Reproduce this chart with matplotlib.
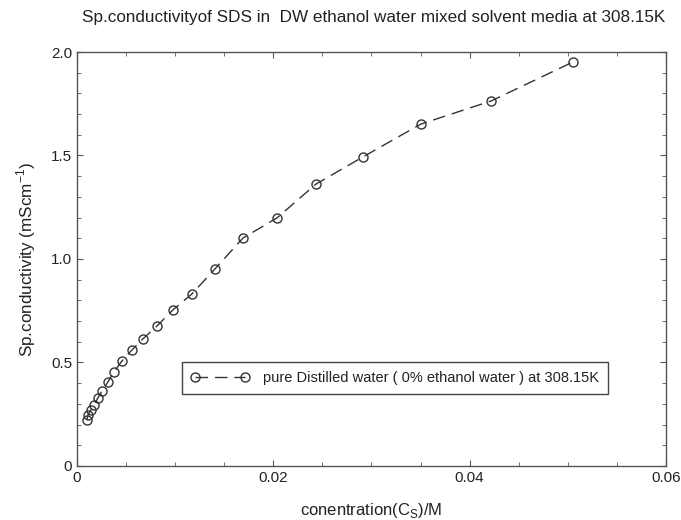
import matplotlib
matplotlib.use("Agg")
import matplotlib.pyplot as plt
from matplotlib.ticker import MultipleLocator

plt.rcParams['font.family'] = ['Liberation Sans', 'DejaVu Sans']

# data
conc = [0.00102, 0.00112, 0.00143, 0.00173, 0.00214, 0.00255, 0.00316,
        0.00377, 0.00458, 0.0056, 0.00672, 0.00815, 0.00978, 0.01171,
        0.01406, 0.01691, 0.02037, 0.02435, 0.02913, 0.03504, 0.04217,
        0.05053]
kappa = [0.222, 0.246, 0.271, 0.295, 0.329, 0.362, 0.406, 0.454, 0.507,
         0.560, 0.614, 0.676, 0.754, 0.831, 0.952, 1.101, 1.198, 1.362,
         1.493, 1.652, 1.763, 1.952]
series_label = "pure Distilled water ( 0% ethanol water ) at 308.15K"

txt = '#222222'

fig = plt.figure(figsize=(6.81, 5.2), dpi=100)
ax = fig.add_axes([0.113, 0.104, 0.865, 0.796])

ax.plot(conc, kappa, color='#333333', lw=1.0, dashes=(9, 5),
        marker='o', ms=6.5, mfc='none', mec='#333333', mew=1.0,
        label=series_label)

ax.set_xlim(0, 0.06)
ax.set_ylim(0, 2.0)
ax.xaxis.set_minor_locator(MultipleLocator(0.005))
ax.yaxis.set_minor_locator(MultipleLocator(0.1))
ax.set_xticks([0, 0.02, 0.04, 0.06])
ax.set_xticklabels(['0', '0.02', '0.04', '0.06'])
ax.set_yticks([0, 0.5, 1.0, 1.5, 2.0])
ax.set_yticklabels(['0', '0.5', '1.0', '1.5', '2.0'])

ax.tick_params(which='both', direction='in', top=True, right=True,
               color='#555555', labelsize=11, labelcolor=txt)
ax.tick_params(which='major', length=4)
ax.tick_params(which='minor', length=3)
ax.tick_params(axis='x', pad=4)
for s in ax.spines.values():
    s.set_color('#555555')
    s.set_linewidth(1.0)

ax.set_xlabel('conentration(C$_\\mathregular{S}$)/M', fontsize=12, color=txt, labelpad=11)
ax.set_ylabel('Sp.conductivity (mScm$^{\\mathregular{-1}}$)', fontsize=12.3, color=txt, labelpad=9)
fig.text(0.548, 0.967, 'Sp.conductivityof SDS in  DW ethanol water mixed solvent media at 308.15K',
         ha='center', va='center', fontsize=12.3, color=txt)

leg = ax.legend(loc='lower left', bbox_to_anchor=(0.178, 0.174), numpoints=2,
                fancybox=False, framealpha=1, edgecolor='#444444',
                fontsize=10.5, handlelength=4, borderpad=0.6,
                borderaxespad=0, handletextpad=1.0)
for t in leg.get_texts():
    t.set_color(txt)

fig.savefig('out.png', dpi=100)
